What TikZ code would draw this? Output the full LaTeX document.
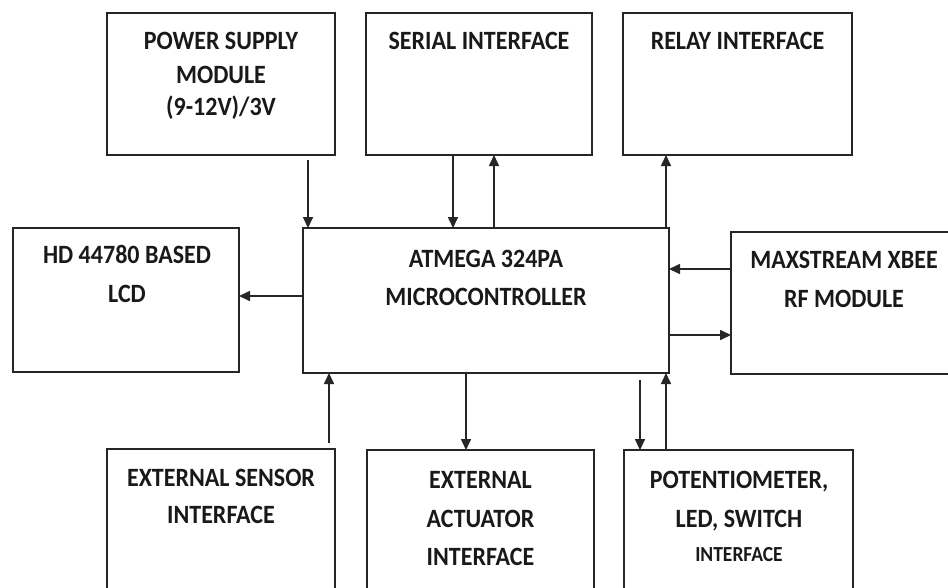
\documentclass[tikz,border=0pt]{standalone}
\usepackage{fontspec}
\usepackage{graphicx}
\setmainfont{Carlito}
\usetikzlibrary{arrows.meta}
\newcommand{\vstr}[1]{\scalebox{1}[1.1]{#1}}
\begin{document}
\begin{tikzpicture}[x=1pt,y=-1pt,
  box/.style={draw=black!85, line width=1.6pt, rectangle, inner sep=0pt, outer sep=0pt},
  lbl/.style={font=\bfseries\fontsize{24}{28}\selectfont, text=black!90, anchor=base, inner sep=0pt},
  sml/.style={font=\bfseries\fontsize{19.5}{23}\selectfont, text=black!90, anchor=base, inner sep=0pt},
  arr/.style={draw=black!85, line width=1.6pt, -{Triangle[length=11pt,width=10pt]}}]
\useasboundingbox (0,0) rectangle (948,587);
\fill[white] (0,0) rectangle (948,587);
\clip (0,0) rectangle (948,587);
% boxes
\node[box, minimum width=228pt, minimum height=142pt] (ps)   at (221,84) {};
\node[box, minimum width=226pt, minimum height=142pt] (ser)  at (479,84) {};
\node[box, minimum width=229pt, minimum height=142pt] (rel)  at (737.5,84) {};
\node[box, minimum width=226pt, minimum height=144pt] (lcd)  at (126,300) {};
\node[box, minimum width=366pt, minimum height=145pt] (mcu)  at (486,300.5) {};
\node[box, minimum width=226pt, minimum height=142pt] (xbee) at (844,303) {};
\node[box, minimum width=228pt, minimum height=171pt] (sens) at (221,534.5) {};
\node[box, minimum width=227pt, minimum height=170pt] (act)  at (480.5,535) {};
\node[box, minimum width=229pt, minimum height=170pt] (pot)  at (738.5,535) {};
% texts
\node[lbl] (t1) at (221,49) {\vstr{POWER SUPPLY}};
\node[lbl] (t2) at (221,83) {\vstr{MODULE}};
\node[lbl] (t3) at (221,115) {\vstr{(9-12V)/3V}};
\node[lbl] (t4) at (479,49) {\vstr{SERIAL INTERFACE}};
\node[lbl] (t5) at (737.5,49) {\vstr{RELAY INTERFACE}};
\node[lbl] (t6) at (127,263) {\vstr{HD 44780 BASED}};
\node[lbl] (t7) at (127,302) {\vstr{LCD}};
\node[lbl] (t8) at (486,267) {\vstr{ATMEGA 324PA}};
\node[lbl] (t9) at (486,305) {\vstr{MICROCONTROLLER}};
\node[lbl] (t10) at (844,268) {\vstr{MAXSTREAM XBEE}};
\node[lbl] (t11) at (844,307) {\vstr{RF MODULE}};
\node[lbl] (t12) at (221,486) {\vstr{EXTERNAL SENSOR}};
\node[lbl] (t13) at (221,523) {\vstr{INTERFACE}};
\node[lbl] (t14) at (480.5,488) {\vstr{EXTERNAL}};
\node[lbl] (t15) at (480.5,527) {\vstr{ACTUATOR}};
\node[lbl] (t16) at (480.5,565) {\vstr{INTERFACE}};
\node[lbl] (t17) at (739,488) {\vstr{POTENTIOMETER,}};
\node[lbl] (t18) at (739,527) {\vstr{LED, SWITCH}};
\node[sml] (t19) at (739,561) {\vstr{INTERFACE}};
% connector anchors
\coordinate (p1) at ([xshift=201pt,yshift=-5pt]ps.south west);
\coordinate (s1) at ([xshift=87pt]ser.south west);
\coordinate (s2) at ([xshift=128pt]ser.south west);
\coordinate (r1) at ([xshift=43pt]rel.south west);
\coordinate (l1) at ([yshift=-68pt]mcu.north west);
\coordinate (x1) at ([yshift=-37pt]xbee.north west);
\coordinate (x2) at ([yshift=-103pt]xbee.north west);
\coordinate (e1) at ([xshift=222pt,yshift=6pt]sens.north west);
\coordinate (a1) at ([xshift=99pt]act.north west);
\coordinate (q1) at ([xshift=16pt,yshift=70pt]pot.north west);
\coordinate (q2) at ([xshift=42pt]pot.north west);
% connectors
\draw[arr] (p1) -- (p1 |- mcu.north);
\draw[arr] (s1) -- (s1 |- mcu.north);
\draw[arr] (s2 |- mcu.north) -- (s2);
\draw[arr] (r1 |- mcu.north) -- (r1);
\draw[arr] (l1) -- (l1 -| lcd.east);
\draw[arr] (x1) -- (x1 -| mcu.east);
\draw[arr] (x2 -| mcu.east) -- (x2);
\draw[arr] (e1) -- (e1 |- mcu.south);
\draw[arr] (a1 |- mcu.south) -- (a1);
\draw[arr] (q1) -- (q1 |- pot.north);
\draw[arr] (q2) -- (q2 |- mcu.south);
\end{tikzpicture}
\end{document}
